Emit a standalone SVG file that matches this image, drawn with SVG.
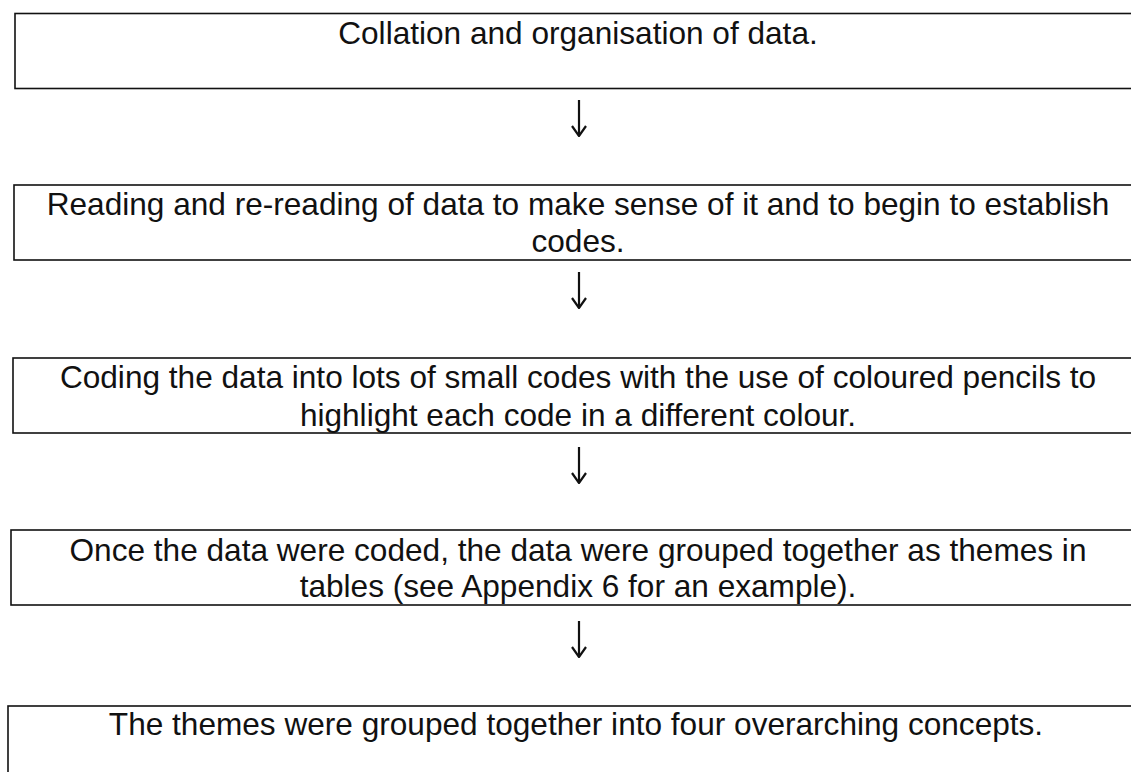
<svg xmlns="http://www.w3.org/2000/svg" width="1131" height="772" viewBox="0 0 1131 772">
<style>
.box{fill:none;stroke:#111;stroke-width:1.6}
.t{font-family:"Liberation Sans",Arial,sans-serif;font-size:31.6px;fill:#111;text-anchor:middle}
.arr{stroke:#111;stroke-width:2.2;fill:none}
</style>
<defs>
<marker id="ah" markerWidth="12" markerHeight="16" refX="11" refY="8" orient="auto" markerUnits="userSpaceOnUse" viewBox="0 0 12 16">
<path d="M1,1 L11,8 L1,15" fill="none" stroke="#111" stroke-width="2.2"/>
</marker>
</defs>
<rect width="1131" height="772" fill="#fff"/>
<g id="node1">
<rect class="box" x="15" y="13.5" width="1130" height="75"/>
<text class="t" x="578" y="44">Collation and organisation of data.</text>
</g>
<g id="node2">
<rect class="box" x="14" y="185" width="1130" height="75"/>
<text class="t" x="578" y="215">Reading and re-reading of data to make sense of it and to begin to establish</text>
<text class="t" x="578" y="252">codes.</text>
</g>
<g id="node3">
<rect class="box" x="13" y="358" width="1130" height="75"/>
<text class="t" x="578" y="388">Coding the data into lots of small codes with the use of coloured pencils to</text>
<text class="t" x="578" y="426">highlight each code in a different colour.</text>
</g>
<g id="node4">
<rect class="box" x="11" y="530" width="1130" height="75"/>
<text class="t" x="578" y="561">Once the data were coded, the data were grouped together as themes in</text>
<text class="t" x="578" y="597">tables (see Appendix 6 for an example).</text>
</g>
<g id="node5">
<rect class="box" x="8" y="706" width="1130" height="80"/>
<text class="t" x="576" y="735">The themes were grouped together into four overarching concepts.</text>
</g>
<g id="connectors">
<path class="arr" d="M579,100 V136" marker-end="url(#ah)"/>
<path class="arr" d="M579,272 V308" marker-end="url(#ah)"/>
<path class="arr" d="M579,447 V483" marker-end="url(#ah)"/>
<path class="arr" d="M579,621 V657" marker-end="url(#ah)"/>
</g>
</svg>
